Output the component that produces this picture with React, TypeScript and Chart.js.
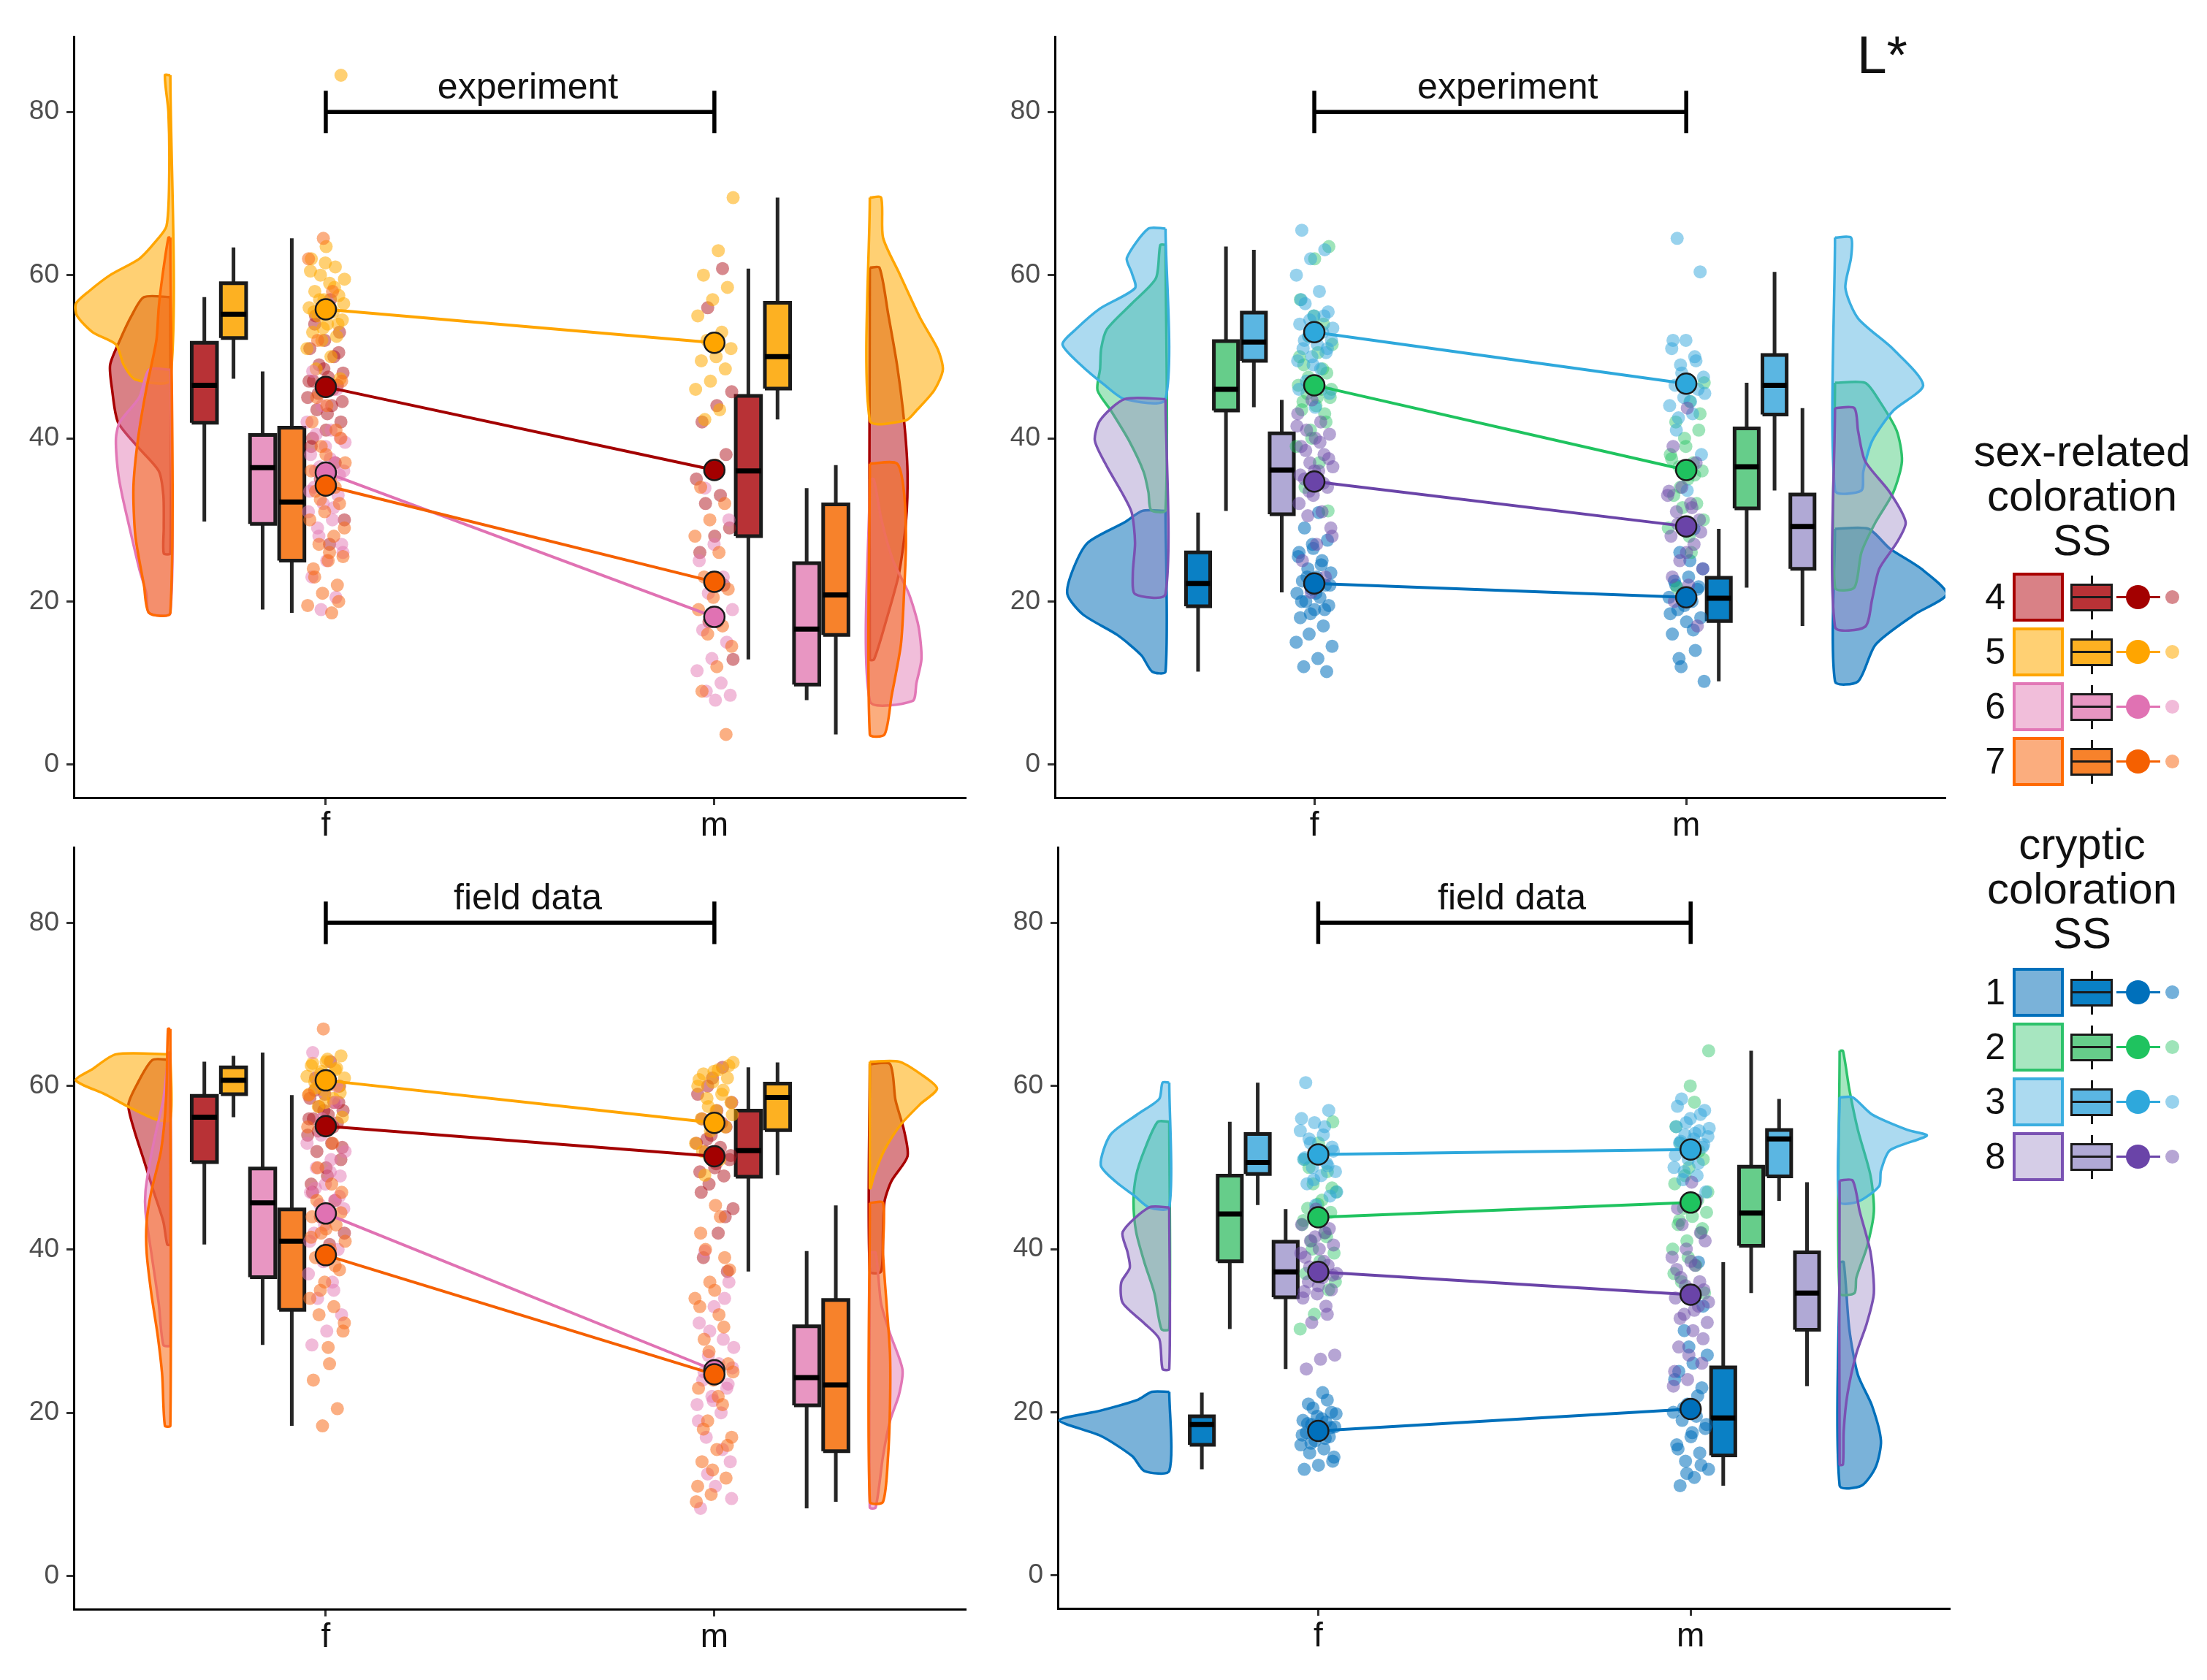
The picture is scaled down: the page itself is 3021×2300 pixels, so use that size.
import { useEffect, useRef } from "react";
import { Chart, registerables } from "chart.js";

Chart.register(...registerables);

const FONT = "'Liberation Sans', Arial, Helvetica, sans-serif";

// ---- data ----
const sexLabels = ["f", "m"];
const yTicks = [0, 20, 40, 60, 80];
const sexRelatedSS = ["4", "5", "6", "7"];
const crypticSS = ["1", "2", "3", "8"];

// box stats per SS group: [lower whisker, Q1, median, Q3, upper whisker]
const expSexBoxF = [
  [29.8, 41.9, 46.5, 51.7, 57.3],
  [47.3, 52.3, 55.2, 59.0, 63.4],
  [19.0, 29.5, 36.4, 40.4, 48.2],
  [18.6, 25.0, 32.2, 41.3, 64.5],
];
const expSexBoxM = [
  [12.9, 28.0, 36.0, 45.2, 60.8],
  [42.3, 46.1, 50.0, 56.6, 69.5],
  [7.9, 9.8, 16.6, 24.7, 33.9],
  [3.7, 15.9, 20.8, 31.9, 36.7],
];
const expCryBoxF = [
  [11.4, 19.4, 22.2, 26.0, 30.9],
  [31.1, 43.4, 46.0, 51.9, 63.5],
  [43.8, 49.5, 51.8, 55.4, 63.1],
  [21.1, 30.7, 36.1, 40.6, 44.7],
];
const expCryBoxM = [
  [10.2, 17.6, 20.4, 22.9, 28.9],
  [21.7, 31.4, 36.5, 41.2, 46.8],
  [33.6, 42.9, 46.5, 50.2, 60.4],
  [17.0, 24.0, 29.2, 33.1, 43.7],
];
const fieldSexBoxF = [
  [40.6, 50.7, 56.2, 58.8, 63.0],
  [56.2, 59.0, 60.7, 62.3, 63.7],
  [28.3, 36.6, 45.7, 49.9, 64.1],
  [18.4, 32.6, 41.0, 44.9, 58.9],
];
const fieldSexBoxM = [
  [37.3, 48.9, 52.1, 57.0, 62.3],
  [49.1, 54.6, 58.6, 60.3, 62.9],
  [8.3, 20.9, 24.3, 30.6, 39.8],
  [9.1, 15.3, 23.4, 33.8, 45.4],
];
const fieldCryBoxF = [
  [13.0, 16.0, 18.5, 19.5, 22.4],
  [30.2, 38.5, 44.3, 49.0, 55.6],
  [45.4, 49.2, 50.6, 54.1, 60.4],
  [25.3, 34.1, 37.2, 40.9, 44.9],
];
const fieldCryBoxM = [
  [11.0, 14.7, 19.3, 25.5, 38.4],
  [34.6, 40.4, 44.4, 50.1, 64.3],
  [45.9, 48.9, 53.5, 54.6, 58.4],
  [23.2, 30.1, 34.6, 39.6, 48.2],
];

// group means (f, m)
const expSexMeanF = [46.3, 55.8, 35.8, 34.2];
const expSexMeanM = [36.1, 51.7, 18.1, 22.4];
const expCryMeanF = [22.2, 46.5, 53.0, 34.7];
const expCryMeanM = [20.5, 36.1, 46.7, 29.2];
const fieldSexMeanF = [55.1, 60.7, 44.4, 39.3];
const fieldSexMeanM = [51.4, 55.5, 25.2, 24.7];
const fieldCryMeanF = [17.7, 43.9, 51.6, 37.2];
const fieldCryMeanM = [20.4, 45.7, 52.2, 34.4];

// half-violin density outlines: [L*, half width] from top to bottom
const expSexViolinF = [
  [[57.3, 0.068], [55, 0.1], [52, 0.13], [49, 0.155], [46, 0.15], [42, 0.135], [39, 0.085], [36, 0.03], [33, 0.018], [29, 0.017], [25.9, 0.017]],
  [[84.5, 0.014], [80, 0.005], [72, 0.003], [66, 0.01], [64, 0.04], [62, 0.08], [60, 0.155], [58, 0.21], [56.5, 0.243], [55, 0.24], [53, 0.2], [51.5, 0.14], [49, 0.12], [47.2, 0.09]],
  [[48.4, 0.055], [45, 0.08], [42, 0.13], [40, 0.14], [36, 0.135], [33, 0.124], [28, 0.1], [24, 0.08], [21, 0.062], [18.6, 0.055]],
  [[64.6, 0.005], [60, 0.02], [56, 0.03], [52, 0.036], [46, 0.062], [40, 0.083], [34, 0.095], [28, 0.09], [22, 0.068], [18.6, 0.055]],
];
const expSexViolinM = [
  [[60.9, 0.025], [55.3, 0.047], [49, 0.07], [42.2, 0.088], [35.9, 0.097], [29.7, 0.093], [23.4, 0.075], [17.8, 0.043], [12.9, 0.011]],
  [[69.5, 0.029], [64.6, 0.034], [60.3, 0.075], [54.7, 0.13], [50.9, 0.175], [48.4, 0.188], [45.9, 0.166], [43.4, 0.12], [42.2, 0.093]],
  [[35, 0.01], [30, 0.03], [25, 0.06], [21, 0.1], [17, 0.125], [13, 0.133], [10, 0.12], [7.8, 0.11]],
  [[36.9, 0.07], [33.4, 0.088], [27.2, 0.093], [20.9, 0.088], [14.7, 0.08], [8.4, 0.056], [3.7, 0.038]],
];
const expCryViolinF = [
  [[31.1, 0.062], [29.7, 0.11], [27.2, 0.209], [24, 0.248], [20.9, 0.264], [18.4, 0.222], [15.9, 0.13], [13.4, 0.065], [11.4, 0.036]],
  [[63.7, 0.014], [59.6, 0.026], [56.5, 0.091], [53.4, 0.157], [51, 0.173], [48.5, 0.176], [45.9, 0.183], [43.4, 0.147], [39.7, 0.098], [35.9, 0.059], [33.4, 0.046], [31.2, 0.039]],
  [[65.7, 0.046], [62.1, 0.104], [60.3, 0.091], [58.4, 0.082], [55.9, 0.176], [53.4, 0.24], [51.5, 0.277], [49, 0.228], [46.5, 0.163], [44.8, 0.11]],
  [[44.8, 0.11], [42.2, 0.176], [39.7, 0.19], [36.5, 0.157], [33.4, 0.118], [30.9, 0.091], [27.2, 0.082], [23.4, 0.088], [20.9, 0.082]],
];
const expCryViolinM = [
  [[28.9, 0.09], [26.5, 0.147], [24, 0.232], [20.9, 0.3], [18.4, 0.214], [14.7, 0.109], [10.2, 0.062]],
  [[46.8, 0.081], [44.6, 0.119], [40.9, 0.166], [37.2, 0.18], [33.4, 0.157], [29.7, 0.109], [26, 0.071], [21.7, 0.052]],
  [[64.6, 0.043], [62.1, 0.043], [58.4, 0.028], [54.7, 0.062], [50.9, 0.157], [46.5, 0.237], [43.4, 0.157], [39.7, 0.1], [35.9, 0.076], [33.6, 0.071]],
  [[43.7, 0.052], [40.9, 0.062], [37.2, 0.081], [33.4, 0.147], [29.7, 0.19], [27.2, 0.166], [24, 0.119], [20.3, 0.1], [16.9, 0.081]],
];
const fieldSexViolinF = [
  [[63.2, 0.046], [60.2, 0.086], [57.7, 0.108], [54.6, 0.093], [50.9, 0.068], [47.1, 0.043], [43.4, 0.018], [40.6, 0.008]],
  [[63.9, 0.14], [62.1, 0.2], [60.7, 0.243], [59, 0.168], [57.4, 0.105], [55.9, 0.036]],
  [[64.1, 0.004], [58.4, 0.018], [54.6, 0.036], [50.9, 0.052], [47.1, 0.064], [44.6, 0.064], [39.6, 0.049], [33.4, 0.03], [28.3, 0.018]],
  [[67, 0.006], [58.4, 0.011], [52.1, 0.024], [47.1, 0.049], [43.4, 0.061], [39.6, 0.061], [34.6, 0.049], [29.6, 0.033], [24.6, 0.021], [18.4, 0.014]],
];
const fieldSexViolinM = [
  [[62.7, 0.052], [58.3, 0.066], [54.6, 0.088], [51.4, 0.097], [48.4, 0.056], [45.9, 0.038], [42.2, 0.034], [37.3, 0.029]],
  [[63, 0.075], [61.5, 0.13], [59.7, 0.173], [57.8, 0.13], [55.3, 0.08], [52.2, 0.038], [49.1, 0.011], [47.5, 0.002]],
  [[39.6, 0.015], [33.4, 0.029], [29.7, 0.052], [25.3, 0.084], [22.2, 0.075], [19, 0.052], [14.7, 0.034], [8.4, 0.015]],
  [[45.7, 0.034], [39.6, 0.034], [33.4, 0.043], [27.2, 0.052], [20.9, 0.052], [14.7, 0.047], [9.1, 0.034]],
];
const fieldCryViolinF = [
  [[22.5, 0.047], [21.5, 0.086], [20.2, 0.184], [19, 0.295], [17.1, 0.184], [14.6, 0.099], [12.8, 0.067]],
  [[55.6, 0.031], [52.1, 0.067], [49, 0.089], [45.8, 0.096], [42.1, 0.089], [38.4, 0.067], [34.6, 0.04], [30.2, 0.021]],
  [[60.4, 0.018], [58.4, 0.027], [56.5, 0.086], [54, 0.158], [50.3, 0.184], [48.3, 0.145], [46.5, 0.093], [45.1, 0.054]],
  [[45.1, 0.054], [42.1, 0.125], [39.6, 0.112], [37.7, 0.106], [35.9, 0.129], [33.4, 0.125], [30.9, 0.067], [29, 0.027], [25.3, 0.018]],
];
const fieldCryViolinM = [
  [[38.4, 0.011], [30.2, 0.026], [24.6, 0.049], [20.8, 0.087], [16.5, 0.111], [13.3, 0.097], [11, 0.059]],
  [[64.3, 0.009], [59.6, 0.026], [54.6, 0.049], [49, 0.083], [44.6, 0.092], [40.2, 0.073], [36.5, 0.045], [34.6, 0.04]],
  [[58.6, 0.035], [56.5, 0.087], [54.6, 0.182], [53.9, 0.234], [52.1, 0.135], [49.6, 0.111], [47.7, 0.106], [45.8, 0.049]],
  [[48.4, 0.035], [44.6, 0.054], [39.6, 0.083], [34.6, 0.092], [30.9, 0.073], [27.2, 0.045], [22.2, 0.021], [17.7, 0.011], [13.6, 0.009]],
];

// individual L* values
const expSexPointsF = [
  [57, 55, 53, 52, 51, 50, 49, 48, 47.5, 47, 46.5, 46, 45, 44, 43.5, 42, 41, 39, 37, 35, 30, 27, 54, 50.5, 48.5, 47, 46, 45.5, 44.5, 43, 40],
  [84.5, 63.5, 62, 61, 60, 59.5, 59, 58, 57.5, 57, 56, 55.5, 55, 54.5, 54, 53, 52.5, 52, 51, 50, 48.5, 47.3, 61.5, 60.5, 58.5, 57, 56.5, 56, 55.5, 54, 53.5],
  [48.2, 46, 44, 42, 41, 40.5, 40, 39, 38, 37, 36.5, 36, 35, 34, 33, 32, 31, 30, 29, 27, 25, 23, 20.5, 19, 39.5, 37.5, 36, 35.5, 34.5, 33.5, 31.5, 28, 26],
  [64.5, 62, 58, 52, 47, 44, 42, 41, 39, 37, 35, 33.5, 32, 31, 30, 28, 27, 25.5, 25, 24, 22, 21, 19.5, 18.6, 45, 40, 38, 36, 34, 32.5, 29, 26, 23, 20],
];
const expSexPointsM = [
  [60.8, 56, 45.7, 44, 42, 38, 36.5, 35, 33, 32, 29, 28, 26, 22, 17.5, 12.9],
  [69.5, 63, 60, 58.5, 57, 55, 53, 52, 51, 50, 49.5, 48.5, 47, 46, 43.5, 42.3],
  [33.9, 30, 27, 25, 23, 21, 19, 17.5, 16.5, 15, 13, 11.5, 10, 9, 8.5, 7.9],
  [36.7, 34, 32, 30, 28, 26, 23, 21.5, 20.5, 19, 17, 16, 14.5, 12, 9, 3.7],
];
const expCryPointsF = [
  [30.9, 29, 27.5, 26.5, 26, 25, 24, 23.5, 23, 22.5, 22, 21.5, 21, 20.5, 20, 19.5, 19, 18, 17, 16, 14.5, 13, 12, 11.4, 27, 25.5, 24.5, 23, 22, 21, 20, 19, 18.5, 15],
  [63.5, 62, 57, 54, 52.5, 51.5, 50.5, 49, 48, 47, 46.5, 46, 45.5, 45, 44, 43.5, 43, 41, 39, 37, 34, 31.1, 55, 50, 48.5, 47.5, 46, 45, 44.5, 42, 40],
  [65.5, 63.1, 62, 60, 58, 56.5, 55.5, 55, 54, 53, 52.5, 52, 51.5, 51, 50.5, 50, 49.5, 48.5, 47, 45.5, 43.8, 57, 55, 54.5, 53.5, 53, 52, 51, 49, 46],
  [44.7, 43, 42, 41, 40.5, 40, 39, 38, 37, 36.5, 36, 35, 34, 33, 32, 31, 30.5, 29, 27, 25, 23, 21.1, 41.5, 39.5, 38.5, 37.5, 36, 35.5, 34.5, 33.5, 28],
];
const expCryPointsM = [
  [28.9, 26, 24, 23, 22.5, 21.5, 21, 20.5, 20, 19, 18, 17.5, 16, 14, 12, 10.2, 25, 22, 21.8, 19.5, 18.5, 16.5, 13],
  [46.8, 44.5, 42, 41, 40, 38, 37, 36.5, 36, 35, 33, 32, 31.5, 29, 26, 21.7, 43, 39, 37.5, 35.5, 34, 30, 28],
  [64.5, 60.4, 52, 51, 50, 49, 47.5, 47, 46.5, 46, 45, 44, 43, 42.5, 38, 33.6, 52, 49.5, 48, 45.5, 44.5, 41],
  [43.7, 39, 37, 34, 33, 32, 31, 30, 29, 28, 27, 25, 24, 22, 20, 17, 36, 33.5, 31.5, 29.5, 28.5, 26, 23],
];
const fieldSexPointsF = [
  [63, 61, 60, 59, 58.5, 58, 57.5, 57, 56.5, 56, 55.5, 55, 54, 53, 52, 51, 50, 48, 46, 44, 42, 40.6, 59.5, 58, 57, 56, 55, 54.5, 52.5, 49, 47],
  [63.7, 63, 62.5, 62, 61.5, 61, 60.8, 60.5, 60, 59.5, 59, 58.5, 57.5, 56.2, 63.3, 62.8, 62.2, 61.8, 61.2, 60.2, 59.8, 59.2, 58],
  [64.1, 60, 56, 53, 51, 50, 49, 48, 47, 46, 45.5, 45, 44, 42, 40, 38.5, 37, 36, 34, 32, 30, 28.3, 58, 54, 52, 49.5, 47.5, 46.5, 43, 41, 35],
  [67, 58.9, 53, 50, 47, 45, 44, 43, 42, 41, 40, 39, 37.5, 36, 34, 33, 32, 30, 28, 24, 20.5, 18.4, 55, 48, 46, 44.5, 42.5, 41.5, 38, 35, 31, 26],
];
const fieldSexPointsM = [
  [62.3, 60, 58, 57, 56, 55, 54, 53, 52.5, 52, 51, 50, 49.5, 49, 48, 45, 42, 39, 37.3, 61, 59, 55.5, 53.5, 51.5, 50.5, 47, 44],
  [62.9, 62, 61.5, 61, 60.5, 60, 59, 58.5, 58, 57, 56, 55, 54.5, 53, 51, 49.1, 62.5, 61.8, 60.8, 59.5, 57.5, 56.5, 55.5, 52],
  [39.8, 36, 33, 31, 29, 27, 25.5, 24.5, 24, 23, 22, 21, 20, 17, 14, 11, 8.3, 34, 30, 28, 26, 25, 23.5, 21.5, 19, 15.5, 12.5, 9.5],
  [45.4, 42, 39, 36, 34, 32, 29, 26, 24, 23, 21, 19, 17, 15.5, 14, 12, 10, 9.1, 44, 40, 37.5, 35, 33, 30.5, 27.5, 25, 22, 18, 16, 13, 11],
];
const fieldCryPointsF = [
  [22.4, 21, 20, 19.5, 19, 18.8, 18.5, 18.2, 18, 17.5, 17, 16.5, 16, 15.5, 15, 14, 13.5, 13, 21.5, 20.5, 19.8, 19.2, 18.6, 18.1, 17.8, 17.2, 16.8, 16.2, 14.5],
  [55.6, 53, 51, 49.5, 48, 47, 46, 45, 44.5, 44, 43, 42, 41, 39.5, 38.5, 37, 35, 32, 30.2, 52, 50, 47.5, 45.5, 43.5, 41.5, 40, 36],
  [60.4, 57, 55.5, 54.5, 54, 53.5, 52.5, 51.5, 51, 50.5, 50, 49.5, 49, 48, 46.5, 45.4, 56, 55, 53, 52, 51.8, 51.2, 50.2, 48.5, 47],
  [44.9, 43, 42, 41, 40.5, 40, 39, 38, 37.5, 37, 36.5, 36, 35, 34.5, 34, 33, 31, 27, 26.5, 25.3, 42.5, 41.5, 39.5, 38.5, 37.8, 36.8, 35.5, 34.8, 32],
];
const fieldCryPointsM = [
  [38.4, 30, 27, 26, 25, 23, 21, 20, 19.5, 19, 18, 17, 16, 15, 14, 13, 12, 11, 33, 28, 24, 22, 20.5, 18.5, 17.5, 15.5, 13.5, 12.5],
  [64.3, 58, 53, 51, 50, 48, 46, 45, 44.5, 44, 43, 42, 41, 40, 38, 36, 34.6, 60, 55, 52, 49, 47, 45.5, 43.5, 42.5, 39, 37],
  [58.4, 57, 56, 55, 54.5, 54, 53.8, 53.5, 53, 52.5, 51, 50, 49, 48.5, 47, 45.9, 57.5, 56.5, 55.5, 54.8, 54.2, 53.2, 52.8, 52.2, 51.5, 50.5, 49.5],
  [48.2, 45, 42, 40, 39, 38, 36.5, 35, 34.5, 34, 33, 32, 31, 30, 28, 26, 24, 23.2, 46, 43, 41, 38.5, 37.5, 36, 35.5, 33.5, 32.5, 31.5, 29, 27, 25],
];

// ---- styles ----
const meanColor: Record<string, string> = {
  "4": "#A30000", "5": "#FFA500", "6": "#E072B3", "7": "#F56000",
  "1": "#0070BB", "2": "#1FC35F", "3": "#2EA8DC", "8": "#6A44A8",
};
const boxColor: Record<string, string> = {
  "4": "#B83236", "5": "#FDB122", "6": "#E896C2", "7": "#F7822B",
  "1": "#0A80C5", "2": "#66CD8A", "3": "#5BB6E2", "8": "#B0A9D5",
};
const violinLine: Record<string, string> = {
  "4": "#A80000", "5": "#FFA500", "6": "#E277B6", "7": "#FF6A00",
  "1": "#0070BB", "2": "#2DC26B", "3": "#3AAEE0", "8": "#7A52B3",
};
const violinFill: Record<string, string> = {
  "4": "rgba(185,25,35,0.55)", "5": "rgba(255,170,0,0.55)",
  "6": "rgba(228,125,182,0.5)", "7": "rgba(248,105,20,0.55)",
  "1": "rgba(0,108,182,0.52)", "2": "rgba(60,200,115,0.45)",
  "3": "rgba(70,172,222,0.45)", "8": "rgba(150,130,195,0.4)",
};
const pointColor: Record<string, string> = {
  "4": "rgba(175,20,30,0.5)", "5": "rgba(255,170,0,0.55)",
  "6": "rgba(228,120,180,0.5)", "7": "rgba(248,110,30,0.55)",
  "1": "rgba(0,112,187,0.55)", "2": "rgba(40,195,100,0.45)",
  "3": "rgba(50,165,220,0.5)", "8": "rgba(110,75,170,0.5)",
};

interface PanelData {
  label: string;
  groups: string[];
  boxF: number[][];
  boxM: number[][];
  meanF: number[];
  meanM: number[];
  violinF: number[][][];
  violinM: number[][][];
  pointsF: number[][];
  pointsM: number[][];
}

interface Frame {
  areaLeft: number;
  areaTop: number;
  areaWidth: number;
  areaHeight: number;
  xMin: number;
  xMax: number;
}

const panels: { data: PanelData; frame: Frame }[] = [
  {
    data: {
      label: "experiment", groups: sexRelatedSS,
      boxF: expSexBoxF, boxM: expSexBoxM, meanF: expSexMeanF, meanM: expSexMeanM,
      violinF: expSexViolinF, violinM: expSexViolinM, pointsF: expSexPointsF, pointsM: expSexPointsM,
    },
    frame: { areaLeft: 101, areaTop: 44, areaWidth: 1221, areaHeight: 1048, xMin: 0.3515, xMax: 2.647 },
  },
  {
    data: {
      label: "experiment", groups: crypticSS,
      boxF: expCryBoxF, boxM: expCryBoxM, meanF: expCryMeanF, meanM: expCryMeanM,
      violinF: expCryViolinF, violinM: expCryViolinM, pointsF: expCryPointsF, pointsM: expCryPointsM,
    },
    frame: { areaLeft: 1444, areaTop: 44, areaWidth: 1219, areaHeight: 1048, xMin: 0.3026, xMax: 2.697 },
  },
  {
    data: {
      label: "field data", groups: sexRelatedSS,
      boxF: fieldSexBoxF, boxM: fieldSexBoxM, meanF: fieldSexMeanF, meanM: fieldSexMeanM,
      violinF: fieldSexViolinF, violinM: fieldSexViolinM, pointsF: fieldSexPointsF, pointsM: fieldSexPointsM,
    },
    frame: { areaLeft: 101, areaTop: 1154, areaWidth: 1221, areaHeight: 1049, xMin: 0.3515, xMax: 2.647 },
  },
  {
    data: {
      label: "field data", groups: crypticSS,
      boxF: fieldCryBoxF, boxM: fieldCryBoxM, meanF: fieldCryMeanF, meanM: fieldCryMeanM,
      violinF: fieldCryViolinF, violinM: fieldCryViolinM, pointsF: fieldCryPointsF, pointsM: fieldCryPointsM,
    },
    frame: { areaLeft: 1448, areaTop: 1154, areaWidth: 1221, areaHeight: 1048, xMin: 0.3008, xMax: 2.696 },
  },
];

const Y_MIN = -4.05;
const Y_MAX = 89.2;
const AXIS_W = 100;
const AXIS_H = 80;
const PAD_TOP = 10;
const PAD_RIGHT = 20;

// horizontal jitter of the raw points
const jitter = (i: number, seed: number) =>
  ((((i + 1) * 0.618034 + seed * 0.273) % 1) - 0.5) * 0.1;

function violinPoints(v: number[][], base: number, dir: number) {
  const pts = [{ x: base, y: v[0][0] }];
  v.forEach(([y, w]) => pts.push({ x: base + dir * w, y }));
  pts.push({ x: base, y: v[v.length - 1][0] });
  pts.push({ x: base, y: v[0][0] });
  return pts;
}

function buildDatasets(d: PanelData) {
  const out: any[] = [];
  d.groups.forEach((g, gi) => {
    sexLabels.forEach((_, si) => {
      const sx = si + 1;
      const dir = si === 0 ? -1 : 1;
      const violin = si === 0 ? d.violinF[gi] : d.violinM[gi];
      out.push({
        type: "line",
        data: violinPoints(violin, sx + dir * 0.4, dir),
        fill: "shape",
        backgroundColor: violinFill[g],
        borderColor: violinLine[g],
        borderWidth: 3.5,
        pointRadius: 0,
        tension: 0.25,
        order: 100 - gi,
      });

      const [lo, q1, med, q3, hi] = si === 0 ? d.boxF[gi] : d.boxM[gi];
      const bx = sx + dir * 0.2 + (gi - 1.5) * 0.075;
      const hw = 0.0325;
      out.push({
        type: "line",
        data: [
          { x: bx, y: hi }, { x: bx, y: q3 }, { x: bx, y: null },
          { x: bx, y: q1 }, { x: bx, y: lo },
        ],
        borderColor: "#262626",
        borderWidth: 5,
        pointRadius: 0,
        spanGaps: false,
        order: 82,
      });
      out.push({
        type: "line",
        data: [
          { x: bx - hw, y: q1 }, { x: bx + hw, y: q1 }, { x: bx + hw, y: q3 },
          { x: bx - hw, y: q3 }, { x: bx - hw, y: q1 },
        ],
        fill: "shape",
        backgroundColor: boxColor[g],
        borderColor: "#1a1a1a",
        borderWidth: 5,
        borderJoinStyle: "miter",
        pointRadius: 0,
        tension: 0,
        order: 81,
      });
      out.push({
        type: "line",
        data: [{ x: bx - hw, y: med }, { x: bx + hw, y: med }],
        borderColor: "#000",
        borderWidth: 7,
        pointRadius: 0,
        order: 80,
      });

      const pts = si === 0 ? d.pointsF[gi] : d.pointsM[gi];
      out.push({
        type: "scatter",
        data: pts.map((y, i) => ({ x: sx + jitter(i, gi + si * 4), y })),
        pointRadius: 9,
        pointBackgroundColor: pointColor[g],
        pointBorderWidth: 0,
        order: 60 - gi,
      });
    });

    out.push({
      type: "line",
      data: [{ x: 1, y: d.meanF[gi] }, { x: 2, y: d.meanM[gi] }],
      borderColor: meanColor[g],
      borderWidth: 4,
      pointRadius: 0,
      order: 40 - gi,
    });
    out.push({
      type: "scatter",
      data: [{ x: 1, y: d.meanF[gi] }, { x: 2, y: d.meanM[gi] }],
      pointRadius: 14,
      pointBackgroundColor: meanColor[g],
      pointBorderColor: "#1a1a1a",
      pointBorderWidth: 2.5,
      order: 20 - gi,
    });
  });

  // bracket between f and m
  out.push({
    type: "line",
    data: [
      { x: 1, y: 82.6 }, { x: 1, y: 77.4 }, { x: 1, y: 80 },
      { x: 2, y: 80 }, { x: 2, y: 82.6 }, { x: 2, y: 77.4 },
    ],
    borderColor: "#000",
    borderWidth: 5.5,
    pointRadius: 0,
    tension: 0,
    order: 5,
  });
  return out;
}

const bracketLabelPlugin = {
  id: "bracketLabel",
  afterDatasetsDraw(chart: any, _args: any, opts: any) {
    const { ctx, scales } = chart;
    ctx.save();
    ctx.font = `50px ${FONT}`;
    ctx.fillStyle = "#111";
    ctx.textAlign = "center";
    ctx.textBaseline = "alphabetic";
    ctx.fillText(opts.text, scales.x.getPixelForValue(1.52), scales.y.getPixelForValue(81.6));
    ctx.restore();
  },
};

function Panel({ data, frame }: { data: PanelData; frame: Frame }) {
  const canvasRef = useRef<HTMLCanvasElement>(null);
  const w = frame.areaWidth + AXIS_W + PAD_RIGHT;
  const h = frame.areaHeight + PAD_TOP + AXIS_H;

  useEffect(() => {
    if (!canvasRef.current) return;
    const chart = new Chart(canvasRef.current, {
      type: "scatter",
      data: { datasets: buildDatasets(data) },
      plugins: [bracketLabelPlugin],
      options: {
        responsive: false,
        animation: false,
        devicePixelRatio: 1,
        layout: { padding: { top: PAD_TOP, right: PAD_RIGHT, left: 0, bottom: 0 } },
        plugins: {
          legend: { display: false },
          tooltip: { enabled: false },
          bracketLabel: { text: data.label },
        } as any,
        scales: {
          x: {
            type: "linear",
            min: frame.xMin,
            max: frame.xMax,
            afterBuildTicks: (s: any) => {
              s.ticks = [{ value: 1 }, { value: 2 }];
            },
            afterFit: (s: any) => {
              s.height = AXIS_H;
              s.paddingLeft = 0;
              s.paddingRight = 0;
            },
            grid: {
              drawOnChartArea: false,
              drawTicks: true,
              tickLength: 10,
              tickWidth: 3,
              tickColor: "#333",
            },
            border: { display: true, color: "#000", width: 3 },
            ticks: {
              font: { family: FONT, size: 46 },
              color: "#111",
              padding: 2,
              callback: (v: any) => sexLabels[Number(v) - 1] ?? "",
            },
          },
          y: {
            type: "linear",
            min: Y_MIN,
            max: Y_MAX,
            afterBuildTicks: (s: any) => {
              s.ticks = yTicks.map((v) => ({ value: v }));
            },
            afterFit: (s: any) => {
              s.width = AXIS_W;
              s.paddingTop = 0;
              s.paddingBottom = 0;
            },
            grid: {
              drawOnChartArea: false,
              drawTicks: true,
              tickLength: 10,
              tickWidth: 3,
              tickColor: "#333",
            },
            border: { display: true, color: "#000", width: 3 },
            ticks: {
              font: { family: FONT, size: 37 },
              color: "#4D4D4D",
              padding: 10,
            },
          },
        },
      } as any,
    });
    return () => chart.destroy();
  }, [data, frame]);

  return (
    <canvas
      ref={canvasRef}
      width={w}
      height={h}
      style={{
        position: "absolute",
        left: frame.areaLeft - AXIS_W,
        top: frame.areaTop - PAD_TOP,
        width: w,
        height: h,
      }}
    />
  );
}

function LegendBlock({ title, groups, titleTop, rowsTop }: { title: string[]; groups: string[]; titleTop: number; rowsTop: number }) {
  const abs = { position: "absolute" as const };
  return (
    <>
      <div
        style={{
          ...abs, left: 2690, top: titleTop, width: 320, textAlign: "center",
          font: `60px/61px ${FONT}`, color: "#111",
        }}
      >
        {title.map((t) => (
          <div key={t}>{t}</div>
        ))}
      </div>
      {groups.map((g, i) => {
        const top = rowsTop + i * 75;
        const cy = top + 37.5;
        return (
          <div key={g}>
            <div style={{ ...abs, left: 2695, top, width: 50, height: 75, textAlign: "right", font: `50px/75px ${FONT}`, color: "#111" }}>{g}</div>
            <div style={{ ...abs, left: 2755, top: top + 4, width: 70, height: 67, boxSizing: "border-box", border: `4px solid ${violinLine[g]}`, background: violinFill[g] }} />
            <div style={{ ...abs, left: 2861.5, top: cy - 30, width: 3, height: 60, background: "#1a1a1a" }} />
            <div style={{ ...abs, left: 2834, top: cy - 19, width: 58, height: 38, boxSizing: "border-box", border: "3px solid #1a1a1a", background: boxColor[g] }} />
            <div style={{ ...abs, left: 2834, top: cy - 1.5, width: 58, height: 3, background: "#1a1a1a" }} />
            <div style={{ ...abs, left: 2897, top: cy - 1.5, width: 60, height: 3, background: meanColor[g] }} />
            <div style={{ ...abs, left: 2926 - 16.5, top: cy - 16.5, width: 33, height: 33, borderRadius: "50%", background: meanColor[g] }} />
            <div style={{ ...abs, left: 2973 - 9.5, top: cy - 9.5, width: 19, height: 19, borderRadius: "50%", background: pointColor[g] }} />
          </div>
        );
      })}
    </>
  );
}

export default function App() {
  return (
    <div style={{ position: "absolute", left: 0, top: 0, width: 3021, height: 2300, background: "#fff", overflow: "hidden" }}>
      {panels.map((p, i) => (
        <Panel key={i} data={p.data} frame={p.frame} />
      ))}
      <div style={{ position: "absolute", left: 2542, top: 38, font: `73px/73px ${FONT}`, color: "#111" }}>L*</div>
      <LegendBlock title={["sex-related", "coloration", "SS"]} groups={sexRelatedSS} titleTop={587} rowsTop={780} />
      <LegendBlock title={["cryptic", "coloration", "SS"]} groups={crypticSS} titleTop={1125} rowsTop={1321} />
    </div>
  );
}
